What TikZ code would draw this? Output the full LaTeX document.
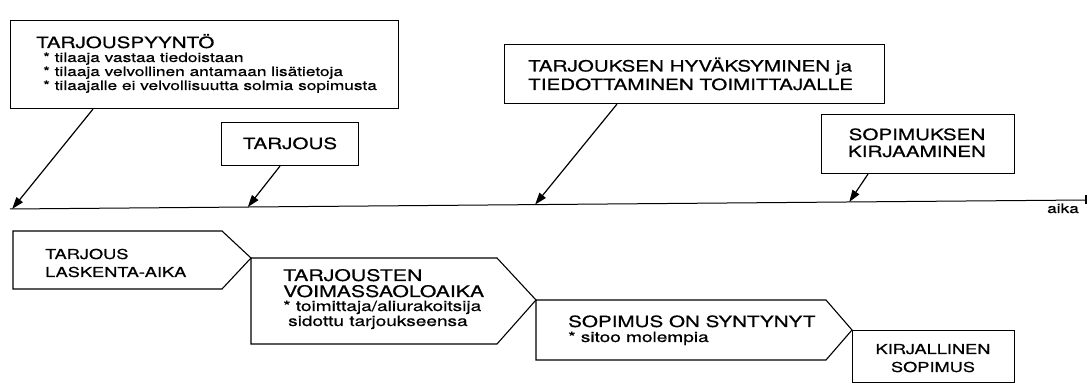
\documentclass[tikz,border=0pt]{standalone}
\usepackage{fontspec}
\setmainfont{TeX Gyre Heros}[FakeStretch=1.33,FakeBold=0.6]
\usetikzlibrary{calc,arrows.meta}
\begin{document}
\begin{tikzpicture}[x=1pt,y=1pt,
  box/.style={draw, line width=1.1pt, inner sep=0pt, anchor=north west},
  big/.style={font=\fontsize{15.5}{18}\selectfont, inner sep=0pt},
  bigger/.style={font=\fontsize{16}{18}\selectfont, inner sep=0pt},
  mid/.style={font=\fontsize{13.7}{17}\selectfont, inner sep=0pt},
  small/.style={font=\fontsize{13}{14}\selectfont, inner sep=0pt},
  smallb/.style={font=\fontsize{14.3}{16}\selectfont, inner sep=0pt},
  pointer/.style={line width=1.2pt, -{Triangle[length=12pt,width=8pt]}},
  outline/.style={draw, line width=1.1pt, line join=miter},
]
\useasboundingbox (0,0) rectangle (1088,-387);

% ---- top boxes
\node[box, minimum width=388pt, minimum height=88pt] (req) at (10,-20) {};
\node[big, anchor=base west] (reqT) at (36,-48) {TARJOUSPYYNTÖ};
\node[small, anchor=base west] (reqA) at (43,-62) {* tilaaja vastaa tiedoistaan};
\node[small, anchor=base west] (reqB) at (43,-76) {* tilaaja velvollinen antamaan lisätietoja};
\node[small, anchor=base west] (reqC) at (43,-90) {* tilaajalle ei velvollisuutta solmia sopimusta};

\node[box, minimum width=137pt, minimum height=43pt] (off) at (221,-122) {};
\node[big, anchor=base] (offT) at (290,-149) {TARJOUS};

\node[box, minimum width=380pt, minimum height=59pt] (acc) at (504,-44) {};
\node[big, anchor=base west] (accA) at (528,-71.5) {TARJOUKSEN HYVÄKSYMINEN ja};
\node[big, anchor=base west] (accB) at (528,-90) {TIEDOTTAMINEN TOIMITTAJALLE};

\node[box, minimum width=193pt, minimum height=59pt] (rec) at (821,-114) {};
\node[big, anchor=base] (recA) at (917,-140) {SOPIMUKSEN};
\node[big, anchor=base] (recB) at (917,-157) {KIRJAAMINEN};

% ---- time line
\coordinate (tlA) at (10,-209);
\coordinate (tlB) at (1086,-200);
\draw[line width=1pt] (tlA) -- (tlB);
\draw[line width=2.2pt] ($(tlB)+(0,5)$) -- ($(tlB)+(0,-4)$);
\node[small, anchor=base] (time) at (1063,-213) {aika};

\coordinate (p1) at ($(tlA)!0.002!(tlB)$);
\coordinate (p2) at ($(tlA)!0.221!(tlB)$);
\coordinate (p3) at ($(tlA)!0.488!(tlB)$);
\coordinate (p4) at ($(tlA)!0.780!(tlB)$);
\coordinate (s1) at ($(req.south west)+(83,0)$);
\coordinate (s2) at ($(off.south west)+(59,0)$);
\coordinate (s3) at ($(acc.south west)+(113,0)$);
\coordinate (s4) at ($(rec.south west)+(47,0)$);

\draw[pointer] (s1) -- (p1);
\draw[pointer] (s2) -- (p2);
\draw[pointer] (s3) -- (p3);
\draw[pointer] (s4) -- (p4);

% ---- phases
\draw[outline] (13,-231) -- (222,-231) -- (251,-258) -- (222,-289) -- (13,-289) -- cycle;
\node[mid, anchor=base west] (ph1A) at (45,-259) {TARJOUS};
\node[mid, anchor=base west] (ph1B) at (45,-277) {LASKENTA-AIKA};

\draw[outline] (251,-258) -- (497,-258) -- (536,-300) -- (497,-344) -- (251,-344) -- cycle;
\node[bigger, anchor=base west] (ph2A) at (283,-281) {TARJOUSTEN};
\node[bigger, anchor=base west] (ph2B) at (283,-297) {VOIMASSAOLOAIKA};
\node[smallb, anchor=base west] (ph2C) at (283,-311) {* toimittaja/aliurakoitsija};
\node[smallb, anchor=base west] (ph2D) at (288,-326) {sidottu tarjoukseensa};

\draw[outline] (536,-300) -- (826,-300) -- (852,-330) -- (826,-360) -- (536,-360) -- cycle;
\node[big, anchor=base west] (ph3A) at (568,-327) {SOPIMUS ON SYNTYNYT};
\node[smallb, anchor=base west] (ph3B) at (568,-342) {* sitoo molempia};

\node[box, minimum width=162pt, minimum height=52pt] (wr) at (852,-330) {};
\node[mid, anchor=base] (wrA) at (933,-354) {KIRJALLINEN};
\node[mid, anchor=base] (wrB) at (933,-372) {SOPIMUS};
\end{tikzpicture}
\end{document}
